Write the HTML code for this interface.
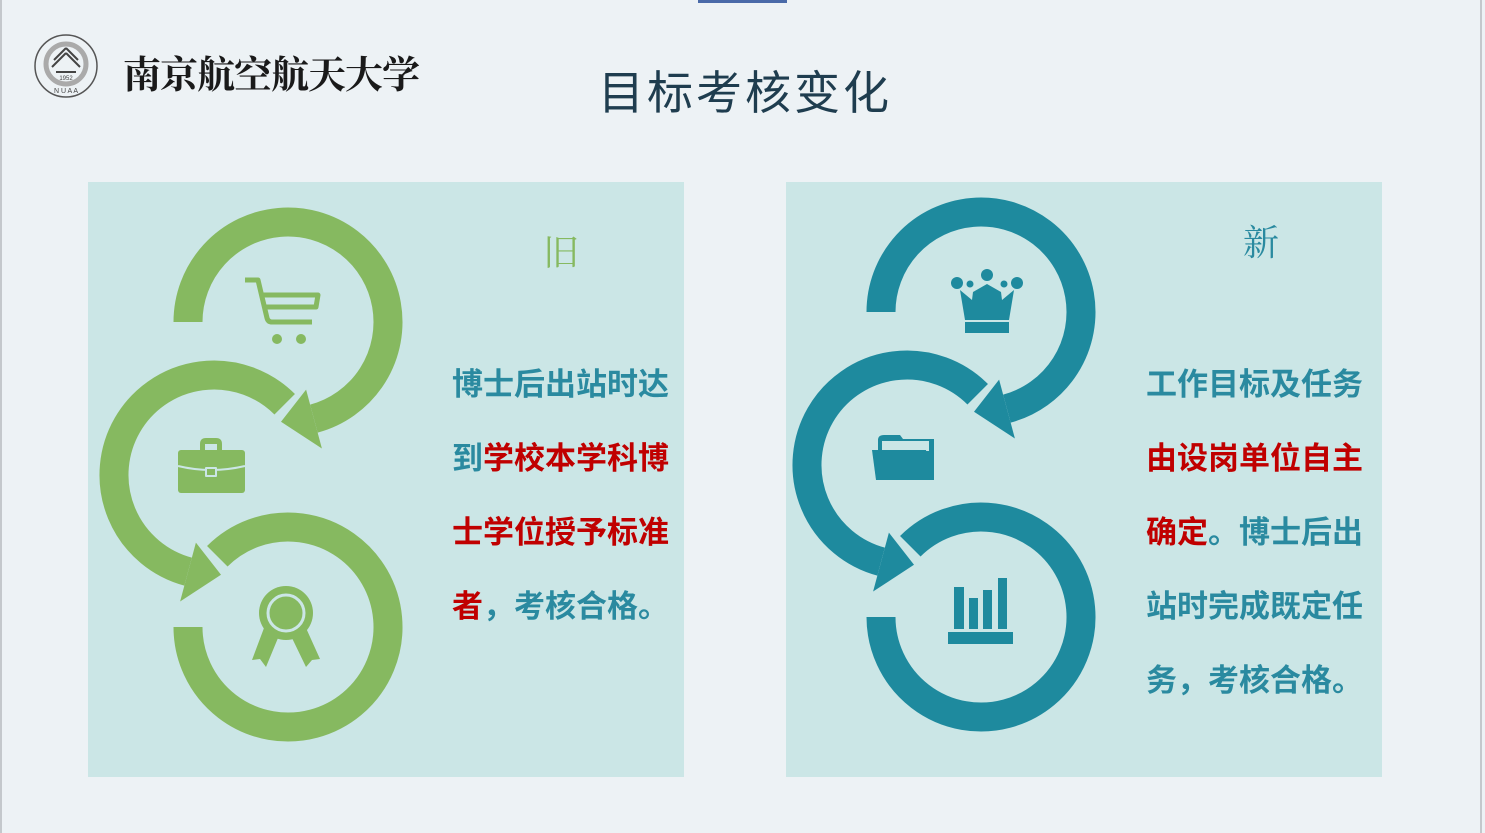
<!DOCTYPE html>
<html><head><meta charset="utf-8"><style>
html,body{margin:0;padding:0}
body{width:1485px;height:833px;background:#edf2f5;position:relative;overflow:hidden;font-family:"Liberation Sans","Noto Sans CJK SC",sans-serif}
.t{position:absolute;font-weight:bold;font-size:31px;line-height:36px;white-space:nowrap;color:#2a8aa0}
.r{color:#c00000}
</style></head><body>
<div style="position:absolute;left:698px;top:0;width:89px;height:3px;background:#4a6aa8"></div>
<div style="position:absolute;left:1480px;top:0;width:2px;height:833px;background:#c4c8cc"></div>
<div style="position:absolute;left:0;top:0;width:2px;height:833px;background:#c4c8cc"></div>
<div style="position:absolute;left:88px;top:182px;width:596px;height:595px;background:#cbe6e6"></div>
<div style="position:absolute;left:786px;top:182px;width:596px;height:595px;background:#cbe6e6"></div>

<svg style="position:absolute;left:0;top:0" width="1485" height="833">
 <!-- logo -->
 <g fill="none" stroke="#555">
  <circle cx="66" cy="66" r="31" stroke-width="1.5"/>
  <circle cx="66" cy="64" r="20" stroke="#aaa" stroke-width="5"/>
 </g>
 <path d="M66 48 L54 60 M66 48 L78 60 M66 53 L52 67 M66 53 L80 67 M56 72 H76" stroke="#444" stroke-width="2" fill="none"/>
 <text x="66" y="80" font-size="6" text-anchor="middle" fill="#444" font-family="Liberation Sans">1952</text>
 <text x="66" y="93" font-size="7" text-anchor="middle" fill="#444" font-family="Liberation Sans">N U A A</text>

 <g fill="none" stroke="#86b960" stroke-width="29">
  <path d="M188 322 A100 100 0 1 1 313.9 418.6"/>
  <path d="M284.7 404.3 A100 100 0 1 0 188.1 571.6"/>
  <path d="M217.3 556.3 A100 100 0 1 1 188 627"/>
 </g>
 <g fill="#86b960">
  <polygon points="306.1,389.6 321.9,448.5 281,421.8"/>
  <polygon points="195.9,542.6 180.1,601.5 221,574.8"/>
 </g>
 <!-- cart -->
 <g fill="none" stroke="#86b960" stroke-width="5" stroke-linejoin="round">
  <path d="M245 280 H258 L267 318 Q268 322 272 322 H312"/>
  <path d="M262 295 H318 L316 307 H265"/>
 </g>
 <g fill="#86b960">
  <circle cx="277" cy="339" r="5"/><circle cx="301" cy="339" r="5"/>
  <!-- briefcase -->
  <rect x="178" y="450" width="67" height="43" rx="3"/>
  <path d="M200 451 V444 Q200 438 206 438 H216 Q222 438 222 444 V451 H217 V444 H205 V451 Z"/>
  <path d="M178 466 Q211 474 245 466" stroke="#cbe6e6" stroke-width="2" fill="none"/>
  <rect x="205" y="467" width="12" height="10" rx="1" fill="#cbe6e6"/>
  <rect x="207" y="469" width="8" height="6" fill="#86b960"/>
  <!-- award -->
  <polygon points="264,628 252,660 260,659 266,667 278,638"/>
  <polygon points="306,628 320,659 312,660 306,667 292,638"/>
  <circle cx="286" cy="613" r="27"/>
  <circle cx="286" cy="613" r="18" fill="none" stroke="#cbe6e6" stroke-width="3"/>
 </g>
 <g transform="translate(693,-10)">
  <g fill="none" stroke="#1e8a9e" stroke-width="29">
   <path d="M188 322 A100 100 0 1 1 313.9 418.6"/>
   <path d="M284.7 404.3 A100 100 0 1 0 188.1 571.6"/>
   <path d="M217.3 556.3 A100 100 0 1 1 188 627"/>
  </g>
  <g fill="#1e8a9e">
   <polygon points="306.1,389.6 321.9,448.5 281,421.8"/>
   <polygon points="195.9,542.6 180.1,601.5 221,574.8"/>
  </g>
 </g>
 <g fill="#1e8a9e">
  <!-- crown -->
  <circle cx="957" cy="283" r="6"/><circle cx="970" cy="284" r="3.5"/><circle cx="987" cy="275" r="6"/><circle cx="1004" cy="284" r="3.5"/><circle cx="1017" cy="283" r="6"/>
  <polygon points="960,290 972,300 973,292 987,284 1001,292 1002,300 1014,290 1009,320 965,320"/>
  <rect x="965" y="322" width="44" height="11"/>
  <!-- folder -->
  <path d="M878 440 Q878 435 884 435 H900 L903 439 H934 V480 H878 Z"/>
  <rect x="882" y="441" width="47" height="10" fill="#cbe6e6"/>
  <polygon points="872,450 926,450 931,480 876,480"/>
  <!-- bars -->
  <rect x="954" y="587" width="10" height="42"/><rect x="969" y="598" width="9" height="31"/><rect x="983" y="590" width="9" height="39"/><rect x="998" y="578" width="9" height="51"/>
  <rect x="948" y="632" width="65" height="12"/>
 </g>
</svg>

<div style="position:absolute;left:123px;top:44px;font-family:'Noto Serif CJK SC',serif;font-size:38px;font-weight:bold;color:#1a1a1a;letter-spacing:-1px">南京航空航天大学</div>
<div style="position:absolute;left:598px;top:57px;font-family:'Liberation Sans','Noto Sans CJK SC',sans-serif;font-size:46px;color:#1f3d4f;letter-spacing:3px">目标考核变化</div>
<div style="position:absolute;left:543px;top:225px;font-family:'Noto Serif CJK SC',serif;font-size:36px;color:#86b960">旧</div>
<div style="position:absolute;left:1243px;top:215px;font-family:'Noto Serif CJK SC',serif;font-size:36px;color:#2a8aa0">新</div>

<div class="t" style="left:452px;top:367px">博士后出站时达</div>
<div class="t" style="left:452px;top:441px">到<span class="r">学校本学科博</span></div>
<div class="t r" style="left:452px;top:515px">士学位授予标准</div>
<div class="t" style="left:452px;top:589px"><span class="r">者</span>，考核合格。</div>

<div class="t" style="left:1146px;top:367px">工作目标及任务</div>
<div class="t r" style="left:1146px;top:441px">由设岗单位自主</div>
<div class="t" style="left:1146px;top:515px"><span class="r">确定</span>。博士后出</div>
<div class="t" style="left:1146px;top:589px">站时完成既定任</div>
<div class="t" style="left:1146px;top:663px">务，考核合格。</div>
</body></html>
